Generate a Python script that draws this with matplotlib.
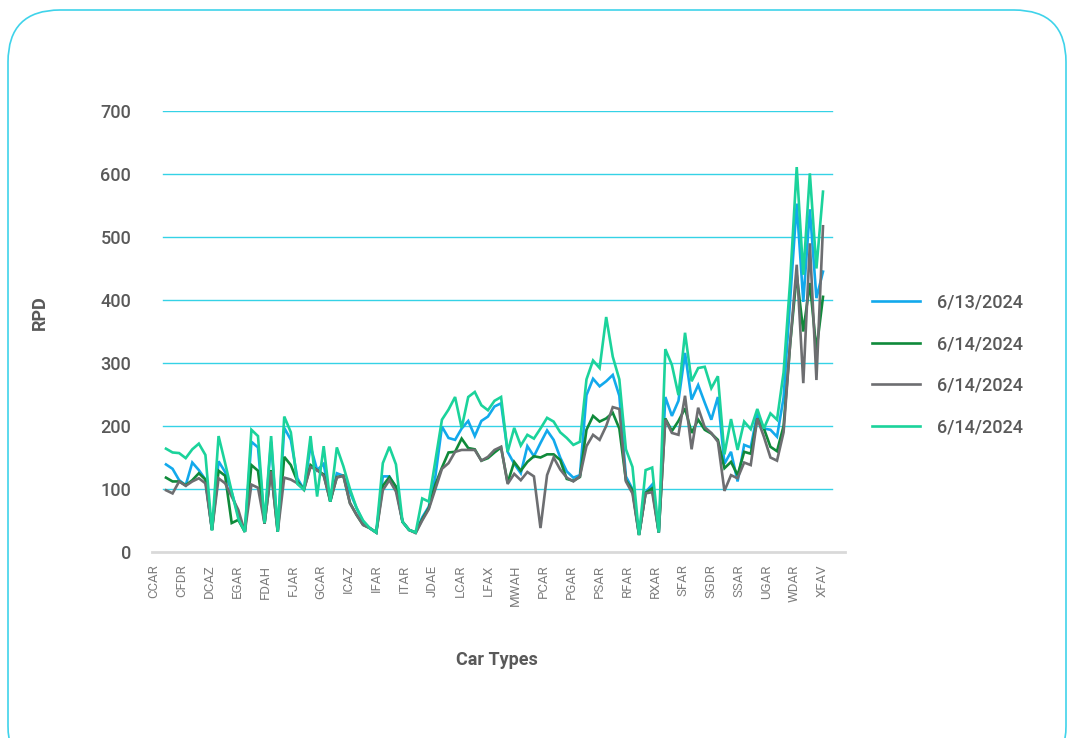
import numpy as np
import matplotlib
matplotlib.use("Agg")
import matplotlib.pyplot as plt
from matplotlib.patches import FancyBboxPatch
from matplotlib.transforms import IdentityTransform

# ---------------- data ----------------
tick_labels = ["CCAR", "CFDR", "DCAZ", "EGAR", "FDAH", "FJAR", "GCAR", "ICAZ", "IFAR",
               "ITAR", "JDAE", "LCAR", "LFAX", "MWAH", "PCAR", "PGAR", "PSAR", "RFAR",
               "RXAR", "SFAR", "SGDR", "SSAR", "UGAR", "WDAR", "XFAV"]

series_names = ["6/13/2024", "6/14/2024", "6/14/2024", "6/14/2024"]

blue_0613 = [139, 132, 114, 106, 142, 130, 115, 35, 144, 127,
             95, 58, 32, 175, 166, 45, 175, 32, 197, 178,
             117, 99, 168, 130, 140, 80, 125, 121, 95, 70,
             48, 38, 31, 120, 120, 102, 48, 35, 31, 55,
             72, 120, 199, 181, 178, 196, 208, 184, 208, 215,
             231, 236, 159, 140, 125, 168, 152, 173, 193, 178,
             150, 128, 118, 122, 249, 275, 263, 271, 281, 248,
             120, 100, 28, 95, 107, 31, 246, 216, 240, 316,
             242, 265, 237, 210, 246, 140, 159, 112, 170, 166,
             220, 196, 194, 183, 245, 400, 553, 397, 544, 403,
             445]

green_0614 = [118, 112, 112, 106, 114, 125, 115, 35, 129, 121,
              46, 51, 32, 138, 129, 45, 130, 32, 151, 138,
              112, 99, 138, 130, 123, 80, 119, 121, 78, 59,
              43, 38, 31, 105, 119, 104, 48, 35, 31, 52,
              70, 107, 134, 158, 159, 180, 165, 163, 145, 149,
              158, 166, 110, 143, 129, 143, 152, 150, 155, 155,
              146, 116, 113, 119, 194, 216, 207, 212, 221, 196,
              114, 98, 27, 94, 101, 31, 212, 192, 208, 228,
              189, 210, 194, 188, 178, 133, 143, 122, 159, 156,
              212, 196, 167, 160, 200, 330, 440, 350, 427, 320,
              405]

gray_0614 = [98, 93, 112, 105, 112, 117, 109, 35, 117, 109,
             88, 67, 32, 107, 102, 45, 128, 32, 118, 115,
             109, 99, 135, 130, 121, 82, 118, 121, 77, 59,
             43, 38, 31, 98, 114, 96, 48, 35, 30, 50,
             68, 100, 132, 141, 159, 162, 162, 162, 145, 151,
             162, 167, 108, 124, 114, 127, 120, 38, 122, 150,
             131, 118, 112, 120, 168, 186, 178, 200, 230, 227,
             112, 93, 27, 93, 95, 31, 210, 189, 186, 248,
             163, 229, 198, 189, 175, 97, 122, 117, 142, 138,
             212, 183, 150, 145, 190, 330, 456, 268, 490, 273,
             517]

teal_0614 = [164, 158, 157, 149, 163, 172, 154, 34, 184, 141,
             96, 53, 32, 194, 184, 46, 184, 32, 215, 190,
             108, 99, 184, 88, 168, 80, 166, 136, 100, 70,
             50, 38, 31, 141, 167, 139, 48, 35, 31, 85,
             80, 145, 210, 226, 246, 197, 246, 254, 233, 225,
             240, 246, 159, 197, 169, 186, 180, 196, 213, 207,
             190, 181, 170, 175, 274, 304, 292, 373, 310, 274,
             163, 135, 27, 130, 134, 31, 322, 297, 249, 348,
             271, 292, 294, 260, 279, 155, 211, 162, 207, 195,
             227, 196, 220, 210, 285, 430, 611, 440, 601, 450,
             572]

y_ticks = [0, 100, 200, 300, 400, 500, 600, 700]

colors = ["#12a9ec", "#0f8a3a", "#6d6e71", "#1bd39b"]

# ---------------- figure ----------------
W, H = 1068, 738
fig = plt.figure(figsize=(W / 100, H / 100), dpi=100)
fig.patch.set_facecolor("white")

font = ["Roboto", "DejaVu Sans"]
text_color = "#595959"

# rounded border
border = FancyBboxPatch((8, -40), 1058, 768,
                        boxstyle="round,pad=0,rounding_size=52",
                        transform=IdentityTransform(), fill=False,
                        edgecolor="#3fd3ea", linewidth=1.2, clip_on=False)
fig.patches.append(border)

ax_left, ax_right = 152, 845
ax_top, ax_bottom = 111, 552
ax = fig.add_axes([ax_left / W, 1 - ax_bottom / H,
                   (ax_right - ax_left) / W, (ax_bottom - ax_top) / H])

n = len(teal_0614)
x = np.arange(n)
for vals, c, lab in zip([blue_0613, green_0614, gray_0614, teal_0614], colors, series_names):
    ax.plot(x, vals, color=c, linewidth=1.9, label=lab, solid_joinstyle="miter", zorder=3)

# axis limits (first point at px 166, last at px 823)
step = (823 - 166) / (n - 1)
ax.set_xlim(-(166 - ax_left) / step, (n - 1) + (ax_right - 823) / step)
ax.set_ylim(0, 700)

# gridlines (span slightly narrower than the axis line)
g0 = (163 - ax_left) / (ax_right - ax_left)
g1 = (832 - ax_left) / (ax_right - ax_left)
for yv in y_ticks[1:]:
    ax.axhline(yv, xmin=g0, xmax=g1, color="#35d2e6", linewidth=1.0, zorder=1)

for s in ["top", "right", "left"]:
    ax.spines[s].set_visible(False)
ax.spines["bottom"].set_color("#d9d9d9")
ax.spines["bottom"].set_linewidth(2.0)

ax.set_yticks(y_ticks)
ax.set_yticklabels([str(v) for v in y_ticks], fontfamily=font, fontsize=13,
                   color=text_color, fontweight="medium")
ax.tick_params(axis="y", length=0, pad=15)

label_pos = np.linspace((154 - 166) / step, (822 - 166) / step, len(tick_labels))
ax.set_xticks(label_pos)
ax.set_xticklabels(tick_labels, rotation=90, fontfamily=font, fontsize=9.5,
                   color="#7f7f7f")
ax.tick_params(axis="x", length=0, pad=9)

fig.text(497 / W, 1 - 660 / H, "Car Types", ha="center", va="center",
         fontfamily=font, fontsize=13, color=text_color, fontweight="semibold")
fig.text(40 / W, 1 - 313 / H, "RPD", ha="center", va="center", rotation=90,
         fontfamily=font, fontsize=13, color=text_color, fontweight="semibold")

leg = fig.legend(loc="center left", bbox_to_anchor=(872 / W, 1 - 365 / H),
                 frameon=False, borderpad=0, borderaxespad=0,
                 handlelength=2.66, handletextpad=0.95, labelspacing=1.3,
                 prop={"family": font, "size": 13, "weight": "medium"})
for t in leg.get_texts():
    t.set_color(text_color)
for h in leg.get_lines():
    h.set_linewidth(1.9)

fig.savefig("out.png", dpi=100, facecolor="white")
